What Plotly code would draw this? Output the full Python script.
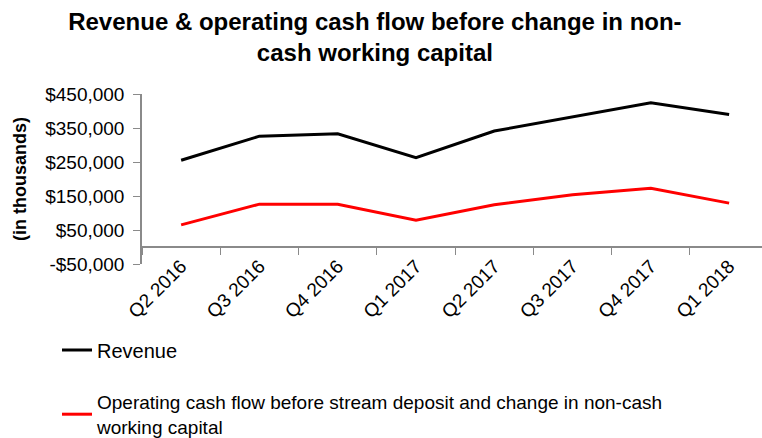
import plotly.graph_objects as go

quarters = ["Q2 2016", "Q3 2016", "Q4 2016", "Q1 2017",
            "Q2 2017", "Q3 2017", "Q4 2017", "Q1 2018"]
revenue = [255000, 326000, 333000, 263000, 341000, 383000, 424000, 390000]
operating_cash_flow = [65000, 126000, 126000, 79000, 124000, 154000, 173000, 129000]

ytick_vals = [-50000, 50000, 150000, 250000, 350000, 450000]
ytick_text = ["-$50,000", "$50,000", "$150,000", "$250,000", "$350,000", "$450,000"]

series_names = [
    "Revenue",
    "Operating cash flow before stream deposit and change in non-cash<br>working capital",
]

FONT = "Liberation Sans, Arial, sans-serif"
AXIS_GREY = "#8a8a8a"
W, H = 762, 438
L, R, T, B = 142, 0, 94, 174

fig = go.Figure()
fig.add_trace(go.Scatter(
    x=quarters, y=revenue, mode="lines", name=series_names[0],
    line=dict(color="#000000", width=3), legend="legend",
))
fig.add_trace(go.Scatter(
    x=quarters, y=operating_cash_flow, mode="lines", name=series_names[1],
    line=dict(color="#ff0000", width=3), legend="legend2",
))

fig.update_layout(
    width=W, height=H,
    margin=dict(l=L, r=R, t=T, b=B, pad=0, autoexpand=False),
    paper_bgcolor="white", plot_bgcolor="white",
    font=dict(family=FONT, color="#000000"),
    title=dict(
        text="Revenue & operating cash flow before change in non-<br>cash working capital",
        x=0.492, xref="container", xanchor="center",
        y=1 - 30 / H, yref="container", yanchor="top",
        font=dict(family=FONT, size=24, weight="bold", color="#000000"),
    ),
    xaxis=dict(
        type="category",
        range=[-0.5, 7.42],
        anchor="free", position=0.1,
        showline=True, linecolor=AXIS_GREY, linewidth=1.5,
        ticks="outside", ticklen=7, tickcolor=AXIS_GREY, tickwidth=1.2,
        tickson="boundaries",
        tickangle=-45,
        tickfont=dict(family=FONT, size=19, color="#000000"),
        showgrid=False, zeroline=False,
    ),
    yaxis=dict(
        range=[-50000, 450000],
        tickmode="array", tickvals=ytick_vals, ticktext=ytick_text,
        showline=True, linecolor=AXIS_GREY, linewidth=1.5,
        ticks="outside", ticklen=7, tickcolor=AXIS_GREY, tickwidth=1.2,
        ticklabelstandoff=5,
        tickfont=dict(family=FONT, size=19, color="#000000"),
        showgrid=False, zeroline=False,
    ),
    annotations=[dict(
        text="(in thousands)", textangle=-90,
        xref="paper", yref="paper",
        x=(20 - L) / (W - L - R), y=0.5,
        xanchor="center", yanchor="middle", showarrow=False,
        font=dict(family=FONT, size=18, weight="bold", color="#000000"),
    )],
    legend=dict(
        xref="container", yref="container",
        x=57 / W, xanchor="left",
        y=1 - 350 / H, yanchor="middle",
        font=dict(family=FONT, size=20, color="#000000"),
        bgcolor="rgba(0,0,0,0)",
    ),
    legend2=dict(
        xref="container", yref="container",
        x=57 / W, xanchor="left",
        y=1 - 383 / H, yanchor="top",
        font=dict(family=FONT, size=19, color="#000000"),
        bgcolor="rgba(0,0,0,0)",
    ),
    showlegend=True,
)

fig.write_html(
    "out.html",
    config={"displayModeBar": False},
    post_script="document.body.style.margin='0';document.body.style.padding='0';",
)
